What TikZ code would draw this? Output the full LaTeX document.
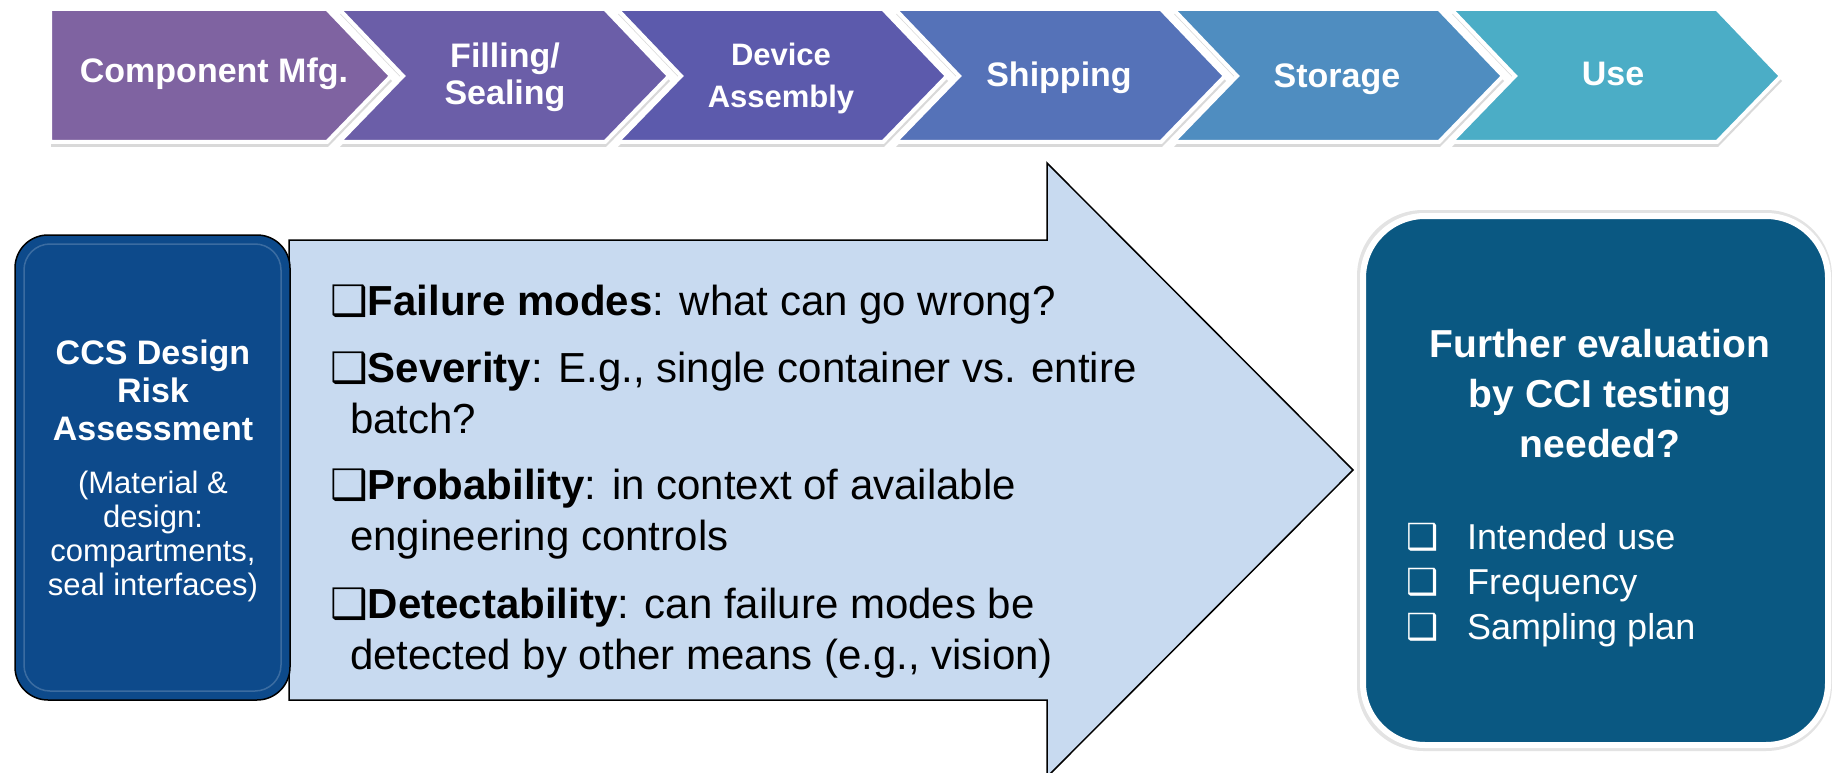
\documentclass[tikz,border=0pt]{standalone}
\usepackage{fontspec}
\setmainfont{Liberation Sans}
\newfontfamily\dingfont{DejaVu Sans}
\usetikzlibrary{shadows}

\definecolor{chevA}{HTML}{7F63A1}
\definecolor{chevB}{HTML}{6B5EA8}
\definecolor{chevC}{HTML}{5C5AAC}
\definecolor{chevD}{HTML}{5572B8}
\definecolor{chevE}{HTML}{4F8DC0}
\definecolor{chevF}{HTML}{4BADC6}
\definecolor{riskblue}{HTML}{0D4A8B}
\definecolor{arrowfill}{HTML}{C8DAF0}
\definecolor{cciteal}{HTML}{0A5882}

\newcommand{\ckbox}{{\dingfont\char"2751}}

\begin{document}
\begin{tikzpicture}[x=1pt,y=-1pt,
  chev/.style={draw=white,line width=4pt,drop shadow={shadow xshift=1pt,shadow yshift=-5pt,opacity=0.3}},
  chevtext/.style={text=white,align=center,font=\bfseries\fontsize{34}{37}\selectfont},
  arrowtext/.style={anchor=base west,align=left,inner sep=0pt,font=\fontsize{42}{51}\selectfont},
  listtext/.style={anchor=base west,inner sep=0pt,text=white,font=\fontsize{36}{45}\selectfont}]
\useasboundingbox (0,0) rectangle (1832,773);

% process steps
\draw[chev,fill=chevA] (50,9) -- (327,9) -- (391,76) -- (327,142) -- (50,142) -- cycle;
\draw[chev,fill=chevB] (339,9) -- (605,9) -- (669,76) -- (605,142) -- (339,142) -- (403,76) -- cycle;
\draw[chev,fill=chevC] (617,9) -- (883,9) -- (947,76) -- (883,142) -- (617,142) -- (681,76) -- cycle;
\draw[chev,fill=chevD] (895,9) -- (1161,9) -- (1225,76) -- (1161,142) -- (895,142) -- (959,76) -- cycle;
\draw[chev,fill=chevE] (1173,9) -- (1439,9) -- (1503,76) -- (1439,142) -- (1173,142) -- (1237,76) -- cycle;
\draw[chev,fill=chevF] (1451,9) -- (1717,9) -- (1781,76) -- (1717,142) -- (1451,142) -- (1515,76) -- cycle;
\node[chevtext] (mfg) at (214,74) {Component Mfg.};
\node[chevtext] (filling) at (505,77) {Filling/\\Sealing};
\node[chevtext,font=\bfseries\fontsize{31}{42}\selectfont] (assembly) at (781,78) {Device\\Assembly};
\node[chevtext] (shipping) at (1059,78) {Shipping};
\node[chevtext] (storage) at (1337,79) {Storage};
\node[chevtext] (use) at (1613,74) {Use};

% big arrow
\draw[fill=arrowfill,line width=1.5pt,line join=miter] (289,240) -- (1047,240) -- (1047,163) -- (1353,470) -- (1047,777) -- (1047,700) -- (289,700) -- cycle;
\node[arrowtext] (failure) at (330,315) {\ckbox\textbf{Failure modes}: what can go wrong?};
\node[arrowtext] (severity) at (330,433) {\ckbox\textbf{Severity}: E.g., single container vs. entire\\\hspace*{20pt}batch?};
\node[arrowtext] (probability) at (330,550) {\ckbox\textbf{Probability}: in context of available\\\hspace*{20pt}engineering controls};
\node[arrowtext] (detect) at (330,669) {\ckbox\textbf{Detectability}: can failure modes be\\\hspace*{20pt}detected by other means (e.g., vision)};

% risk assessment box
\draw[fill=riskblue,draw=black,line width=1.5pt,rounded corners=33pt] (15,235) rectangle (290,700);
\draw[draw=white!55!riskblue,line width=1.5pt,opacity=0.35,rounded corners=26pt] (24,244) rectangle (281,691);
\node[text=white,align=center,anchor=base,font=\bfseries\fontsize{34}{38}\selectfont] (risk) at (153,440)
  {CCS Design\\Risk\\Assessment};
\node[text=white,align=center,anchor=base,font=\fontsize{31}{34}\selectfont] (material) at (153,595)
  {(Material \&\\design:\\compartments,\\seal interfaces)};

% CCI box
\draw[fill=gray!22,draw=none,rounded corners=66pt] (1357,210) rectangle (1832,751);
\draw[fill=cciteal,draw=white,line width=6pt,rounded corners=62pt] (1363,216) rectangle (1828,745);
\node[text=white,align=center,anchor=base,font=\bfseries\fontsize{39}{50}\selectfont] (further) at (1600,457)
  {Further evaluation\\by CCI testing\\needed?};
\node[listtext] (intended) at (1406,549) {\makebox[61pt][l]{\ckbox}Intended use};
\node[listtext] (frequency) at (1406,594) {\makebox[61pt][l]{\ckbox}Frequency};
\node[listtext] (sampling) at (1406,639) {\makebox[61pt][l]{\ckbox}Sampling plan};
\end{tikzpicture}
\end{document}
